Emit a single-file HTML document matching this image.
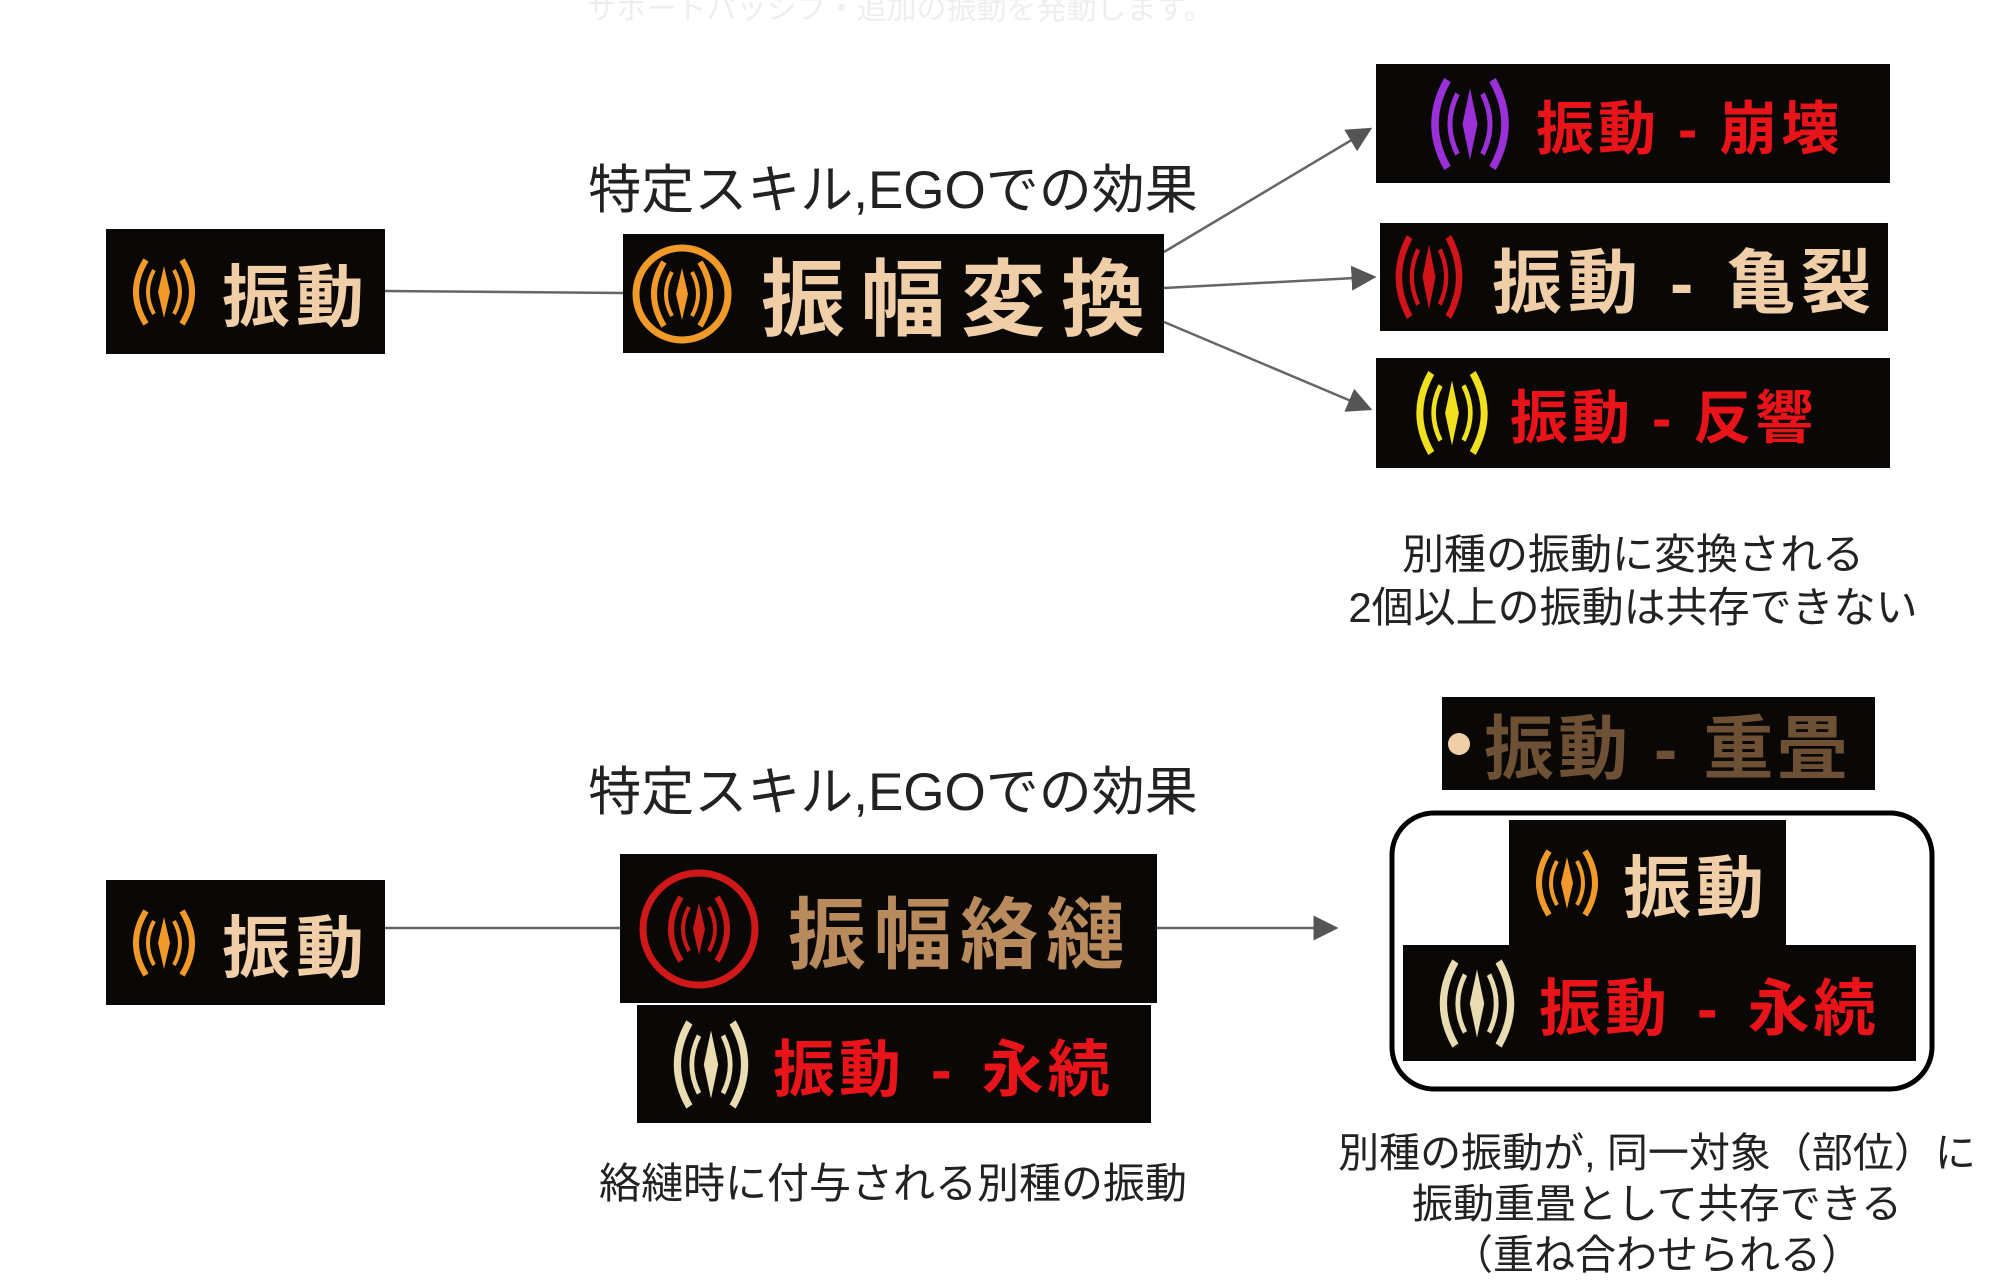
<!DOCTYPE html>
<html><head><meta charset="utf-8"><style>
body{margin:0;width:2000px;height:1278px;background:#fff;position:relative;overflow:hidden;font-family:"Liberation Sans","Noto Sans CJK JP",sans-serif}
.b{position:absolute;background:#0a0806;display:flex;align-items:center;box-sizing:border-box;font-weight:bold;white-space:nowrap}
.t{position:absolute;color:#222;white-space:nowrap;text-align:center;transform:translateX(-50%)}
.ic{flex:none}
.bg{color:#f0cfa8}
.rd{color:#e8141a}
.d{margin:0 18px}
</style></head><body>
<svg width="0" height="0" style="position:absolute"><defs>
<g id="vib"><path d="M22 8 Q2 40 22 72" fill="none" stroke="currentColor" stroke-width="6"/><path d="M58 8 Q78 40 58 72" fill="none" stroke="currentColor" stroke-width="6"/><path d="M30 18 Q18 40 30 62" fill="none" stroke="currentColor" stroke-width="4"/><path d="M50 18 Q62 40 50 62" fill="none" stroke="currentColor" stroke-width="4"/><path d="M40 14 L46 40 L40 66 L34 40Z" fill="currentColor"/></g>
</defs></svg>

<div class="t" style="left:900px;top:-16px;font-size:30px;color:#eee">サポートパッシブ・追加の振動を発動します。</div>

<svg style="position:absolute;left:0;top:0" width="2000" height="1278">
<defs><marker id="ah" markerWidth="10" markerHeight="10" refX="9" refY="5" orient="auto"><path d="M0 0L10 5L0 10Z" fill="#555"/></marker></defs>
<g stroke="#666" stroke-width="2.5" fill="none">
<line x1="385" y1="291" x2="623" y2="293"/>
<line x1="1164" y1="252" x2="1370" y2="129" marker-end="url(#ah)"/>
<line x1="1164" y1="288" x2="1374" y2="277" marker-end="url(#ah)"/>
<line x1="1164" y1="322" x2="1370" y2="409" marker-end="url(#ah)"/>
<line x1="385" y1="928" x2="620" y2="928"/>
<line x1="1157" y1="928" x2="1336" y2="928" marker-end="url(#ah)"/>
</g>
<rect x="1392" y="813" width="540" height="276" rx="42" fill="none" stroke="#000" stroke-width="5"/>
</svg>

<div class="t" style="left:893px;top:148px;font-size:53px">特定スキル,EGOでの効果</div>
<div class="t" style="left:893px;top:750px;font-size:53px">特定スキル,EGOでの効果</div>

<div class="b" style="left:106px;top:229px;width:279px;height:125px;padding-left:18px"><svg class="ic" width="80" height="80" style="color:#f19a2a"><use href="#vib"/></svg><span class="bg" style="font-size:68px;margin-left:18px;letter-spacing:6px">振動</span></div>

<div class="b" style="left:623px;top:234px;width:541px;height:119px;padding-left:4px"><svg class="ic" width="110" height="110" style="color:#f19a2a"><circle cx="55" cy="55" r="46" fill="none" stroke="#f19a2a" stroke-width="7"/><g transform="translate(15,15)"><use href="#vib"/></g></svg><span class="bg" style="font-size:84px;margin-left:24px;letter-spacing:16px">振幅変換</span></div>

<div class="b" style="left:1376px;top:64px;width:514px;height:119px;padding-left:44px"><svg class="ic" width="100" height="110" viewBox="0 0 80 80" preserveAspectRatio="none" style="color:#9a30d8"><use href="#vib"/></svg><span class="rd" style="font-size:58px;margin-left:16px;letter-spacing:4px">振動<span class="d">-</span>崩壊</span></div>
<div class="b" style="left:1380px;top:223px;width:508px;height:108px;padding-left:6px"><svg class="ic" width="86" height="100" viewBox="0 0 80 80" preserveAspectRatio="none" style="color:#d0141a"><use href="#vib"/></svg><span class="bg" style="font-size:70px;margin-left:20px;letter-spacing:6px">振動<span class="d" style="margin:0 26px">-</span>亀裂</span></div>
<div class="b" style="left:1376px;top:358px;width:514px;height:110px;padding-left:30px"><svg class="ic" width="92" height="100" viewBox="0 0 80 80" preserveAspectRatio="none" style="color:#f0e020"><use href="#vib"/></svg><span class="rd" style="font-size:58px;margin-left:12px;letter-spacing:4px">振動<span class="d">-</span>反響</span></div>

<div class="t" style="left:1633px;top:528px;font-size:42px;line-height:53px">別種の振動に変換される<br>2個以上の振動は共存できない</div>

<div class="b" style="left:106px;top:880px;width:279px;height:125px;padding-left:18px"><svg class="ic" width="80" height="80" style="color:#f19a2a"><use href="#vib"/></svg><span class="bg" style="font-size:68px;margin-left:18px;letter-spacing:6px">振動</span></div>

<div class="b" style="left:620px;top:854px;width:537px;height:149px;padding-left:14px"><svg class="ic" width="130" height="130" style="color:#c81818"><circle cx="65" cy="65" r="56" fill="none" stroke="#d01818" stroke-width="7"/><g transform="translate(25,25)"><use href="#vib"/></g></svg><span style="color:#b88a5c;font-size:78px;margin-left:24px;letter-spacing:8px">振幅絡縺</span></div>
<div class="b" style="left:637px;top:1005px;width:514px;height:118px;padding-left:26px"><svg class="ic" width="96" height="105" viewBox="0 0 80 80" preserveAspectRatio="none" style="color:#e8dcb0"><use href="#vib"/></svg><span class="rd" style="font-size:62px;margin-left:14px;letter-spacing:4px">振動<span class="d" style="margin:0 26px">-</span>永続</span></div>

<div class="t" style="left:893px;top:1150px;font-size:42px">絡縺時に付与される別種の振動</div>

<div class="b" style="left:1442px;top:697px;width:433px;height:93px;padding-left:6px"><span style="width:22px;height:22px;border-radius:50%;background:#f0cfa8;flex:none"></span><span style="color:#6e5034;font-size:70px;margin-left:14px;letter-spacing:4px">振動<span class="d" style="margin:0 22px">-</span>重畳</span></div>

<div class="b" style="left:1509px;top:820px;width:277px;height:125px;padding-left:18px"><svg class="ic" width="80" height="80" style="color:#f19a2a"><use href="#vib"/></svg><span class="bg" style="font-size:68px;margin-left:16px;letter-spacing:5px">振動</span></div>
<div class="b" style="left:1403px;top:945px;width:513px;height:116px;padding-left:26px"><svg class="ic" width="96" height="105" viewBox="0 0 80 80" preserveAspectRatio="none" style="color:#e8dcb0"><use href="#vib"/></svg><span class="rd" style="font-size:62px;margin-left:14px;letter-spacing:4px">振動<span class="d" style="margin:0 26px">-</span>永続</span></div>

<div class="t" style="left:1657px;top:1128px;font-size:41px;line-height:51px">別種の振動が, 同一対象（部位）に<br>振動重畳として共存できる<br>（重ね合わせられる）</div>
</body></html>
